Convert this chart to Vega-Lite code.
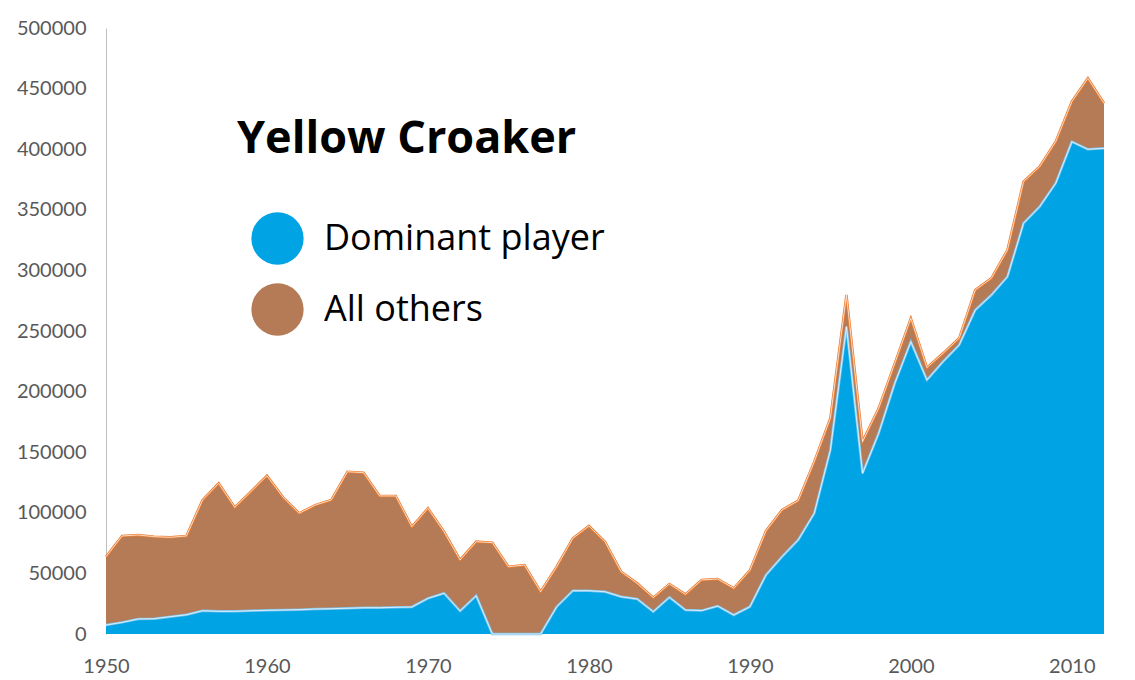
{
  "$schema": "https://vega.github.io/schema/vega-lite/v6.json",
  "width": 998,
  "height": 606,
  "autosize": {"type": "none"},
  "padding": {"left": 106, "top": 28, "right": 31, "bottom": 46},
  "background": "white",
  "config": {
    "view": {"stroke": null},
    "axis": {"labelFont": "Lato", "labelFontSize": 20, "labelColor": "#595959"}
  },
  "title": {
    "text": "Yellow Croaker",
    "anchor": "start",
    "frame": "group",
    "orient": "top",
    "offset": 0,
    "dx": 131,
    "dy": 180,
    "baseline": "alphabetic",
    "font": "Open Sans",
    "fontSize": 45,
    "fontWeight": "bold",
    "color": "black"
  },
  "data": {
    "values": [
      {"year": 1950, "dominant": 7400, "total": 63800},
      {"year": 1951, "dominant": 9600, "total": 80900},
      {"year": 1952, "dominant": 12400, "total": 81700},
      {"year": 1953, "dominant": 12600, "total": 80300},
      {"year": 1954, "dominant": 14300, "total": 79800},
      {"year": 1955, "dominant": 15900, "total": 80900},
      {"year": 1956, "dominant": 19200, "total": 110600},
      {"year": 1957, "dominant": 18700, "total": 124300},
      {"year": 1958, "dominant": 18700, "total": 104500},
      {"year": 1959, "dominant": 19200, "total": 117400},
      {"year": 1960, "dominant": 19500, "total": 130600},
      {"year": 1961, "dominant": 19800, "total": 112800},
      {"year": 1962, "dominant": 20100, "total": 99600},
      {"year": 1963, "dominant": 20600, "total": 106400},
      {"year": 1964, "dominant": 20900, "total": 110600},
      {"year": 1965, "dominant": 21200, "total": 133900},
      {"year": 1966, "dominant": 21700, "total": 133100},
      {"year": 1967, "dominant": 21700, "total": 113900},
      {"year": 1968, "dominant": 22000, "total": 113900},
      {"year": 1969, "dominant": 22300, "total": 88500},
      {"year": 1970, "dominant": 29400, "total": 103700},
      {"year": 1971, "dominant": 33600, "total": 84400},
      {"year": 1972, "dominant": 19000, "total": 61100},
      {"year": 1973, "dominant": 31600, "total": 76200},
      {"year": 1974, "dominant": 0, "total": 75400},
      {"year": 1975, "dominant": 0, "total": 55500},
      {"year": 1976, "dominant": 0, "total": 56900},
      {"year": 1977, "dominant": 0, "total": 34900},
      {"year": 1978, "dominant": 22500, "total": 55500},
      {"year": 1979, "dominant": 35700, "total": 79000},
      {"year": 1980, "dominant": 35700, "total": 89100},
      {"year": 1981, "dominant": 34900, "total": 76200},
      {"year": 1982, "dominant": 30800, "total": 51400},
      {"year": 1983, "dominant": 28900, "total": 41800},
      {"year": 1984, "dominant": 18400, "total": 30000},
      {"year": 1985, "dominant": 30300, "total": 41300},
      {"year": 1986, "dominant": 19800, "total": 32700},
      {"year": 1987, "dominant": 19300, "total": 44600},
      {"year": 1988, "dominant": 23100, "total": 45400},
      {"year": 1989, "dominant": 15700, "total": 37700},
      {"year": 1990, "dominant": 22500, "total": 52500},
      {"year": 1991, "dominant": 48700, "total": 85000},
      {"year": 1992, "dominant": 63800, "total": 102300},
      {"year": 1993, "dominant": 77600, "total": 110000},
      {"year": 1994, "dominant": 99600, "total": 142200},
      {"year": 1995, "dominant": 151800, "total": 178000},
      {"year": 1996, "dominant": 253600, "total": 279700},
      {"year": 1997, "dominant": 132600, "total": 158700},
      {"year": 1998, "dominant": 165600, "total": 186200},
      {"year": 1999, "dominant": 206800, "total": 223300},
      {"year": 2000, "dominant": 241200, "total": 260500},
      {"year": 2001, "dominant": 209600, "total": 219800},
      {"year": 2002, "dominant": 224700, "total": 231600},
      {"year": 2003, "dominant": 238400, "total": 244000},
      {"year": 2004, "dominant": 267300, "total": 283800},
      {"year": 2005, "dominant": 279700, "total": 293500},
      {"year": 2006, "dominant": 294800, "total": 316800},
      {"year": 2007, "dominant": 338900, "total": 373200},
      {"year": 2008, "dominant": 352600, "total": 385600},
      {"year": 2009, "dominant": 371900, "total": 406200},
      {"year": 2010, "dominant": 406200, "total": 439200},
      {"year": 2011, "dominant": 399900, "total": 458500},
      {"year": 2012, "dominant": 400700, "total": 437900}
    ]
  },
  "encoding": {
    "x": {
      "field": "year",
      "type": "quantitative",
      "scale": {"domain": [1950, 2012], "nice": false, "zero": false},
      "axis": {
        "values": [1950, 1960, 1970, 1980, 1990, 2000, 2010],
        "format": "d",
        "grid": false,
        "ticks": false,
        "domain": false,
        "labelPadding": 22,
        "labelFlush": false,
        "title": null
      }
    }
  },
  "layer": [
    {
      "mark": {"type": "area", "interpolate": "linear"},
      "encoding": {
        "y": {
          "field": "dominant",
          "type": "quantitative",
          "scale": {"domain": [0, 500000], "nice": false},
          "axis": {
            "values": [0, 50000, 100000, 150000, 200000, 250000, 300000, 350000, 400000, 450000, 500000],
            "format": "d",
            "grid": false,
            "ticks": false,
            "domainColor": "#BFBFBF",
            "labelPadding": 20,
            "title": null
          }
        },
        "color": {
          "datum": "Dominant player",
          "type": "nominal",
          "scale": {"domain": ["Dominant player", "All others"], "range": ["#00A3E3", "#B57A56"]},
          "legend": {
            "title": null,
            "orient": "none",
            "legendX": 145,
            "legendY": 184,
            "symbolType": "circle",
            "symbolSize": 2734,
            "symbolStrokeWidth": 0,
            "symbolOpacity": 1,
            "labelFont": "Open Sans",
            "labelFontSize": 36,
            "labelColor": "black",
            "labelOffset": 20,
            "labelLimit": 0,
            "rowPadding": 18,
            "padding": 0
          }
        }
      }
    },
    {
      "mark": {"type": "area", "interpolate": "linear"},
      "encoding": {
        "y": {"field": "total", "type": "quantitative"},
        "y2": {"field": "dominant"},
        "color": {"datum": "All others", "type": "nominal"}
      }
    },
    {
      "mark": {"type": "line", "color": "#7BC3EC", "strokeWidth": 2.5},
      "encoding": {"y": {"field": "dominant", "type": "quantitative"}}
    },
    {
      "mark": {"type": "line", "color": "white", "strokeWidth": 0.8, "opacity": 0.9},
      "encoding": {"y": {"field": "dominant", "type": "quantitative"}}
    },
    {
      "mark": {"type": "line", "color": "#ED7D31", "strokeWidth": 2.5},
      "encoding": {"y": {"field": "total", "type": "quantitative"}}
    },
    {
      "mark": {"type": "line", "color": "white", "strokeWidth": 0.8, "opacity": 0.9},
      "encoding": {"y": {"field": "total", "type": "quantitative"}}
    }
  ]
}
